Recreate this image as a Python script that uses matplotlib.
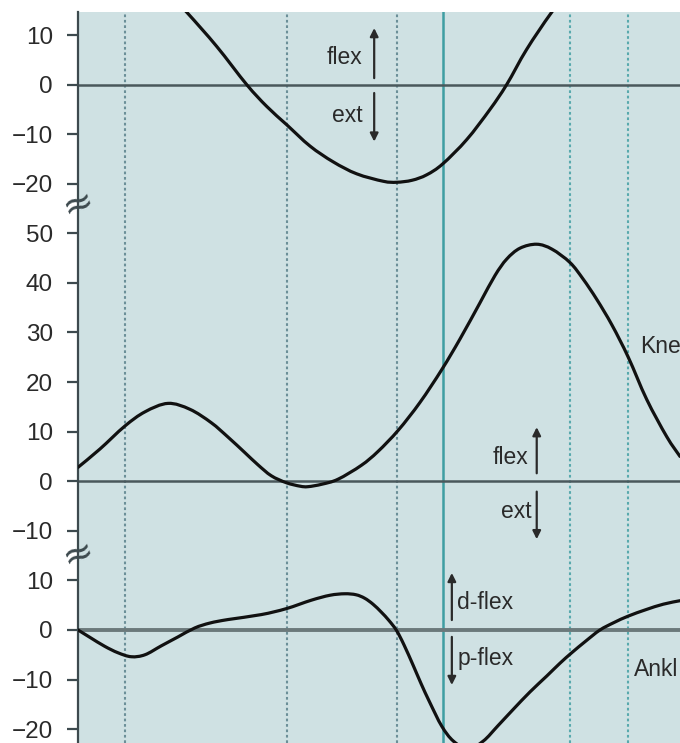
import matplotlib
matplotlib.use("Agg")
import matplotlib.pyplot as plt
from matplotlib.path import Path
from matplotlib.patches import PathPatch

# ---------------- data (x: % of cycle, y: joint angle in degrees) ----------------
hip_x = [0, 6.98, 13.62, 18.06, 23.04, 28.02, 31.35, 34.67, 38.54, 42.41, 46.30,
         50.71, 52.94, 55.48, 57.92, 60.58, 64.57, 68.44, 71.21, 74.53, 78.69, 83.39, 90.03, 100]
hip_y = [33, 28, 20.3, 14.6, 7.7, 0, -4.4, -8.1, -12.4, -15.6, -18.0,
         -19.5, -19.7, -19.3, -18.2, -16.0, -11.1, -5, 0, 7.1, 14.6, 22, 28, 32]

knee_x = [0, 3.65, 7.76, 11.13, 14.95, 18.60, 22.14, 24.92, 27.69, 29.90, 32.11,
          34.60, 36.88, 38.21, 40.53, 43.19, 47.06, 49.83, 53.21, 56.81, 60.42,
          63.46, 66.78, 69.27, 71.21, 73.42, 76.20, 78.74, 81.73, 83.89, 86.16,
          88.70, 91.41, 94.47, 97.79, 100]
knee_y = [2.8, 6.5, 11.1, 14.0, 15.7, 14.5, 11.8, 8.9, 5.8, 3.3, 1.1,
          -0.3, -1.0, -1.1, -0.6, 0.4, 3.2, 6.0, 10.3, 15.9, 22.5,
          28.7, 36.0, 41.5, 44.8, 47.0, 47.8, 46.8, 44.1, 40.8, 36.7,
          31.5, 25.0, 16.5, 9.0, 5.0]

ankle_x = [0, 1.99, 4.44, 6.64, 8.85, 11.13, 13.84, 16.61, 19.39, 21.93, 24.92,
           30.45, 34.60, 38.75, 41.86, 44.30, 46.18, 47.62, 49.00, 50.38, 51.66,
           52.91, 54.15, 55.70, 56.98, 58.47, 60.42, 62.34, 64.78, 67.33, 69.77,
           72.31, 75.08, 77.86, 80.07, 82.01, 84.39, 86.71, 89.04, 91.41, 94.35,
           97.23, 100]
ankle_y = [0, -1.5, -3.3, -4.6, -5.4, -5.0, -3.2, -1.4, 0.4, 1.4, 2.1,
           3.1, 4.3, 6.0, 7.0, 7.3, 7.1, 6.4, 5.2, 3.6, 1.9,
           -0.1, -3.0, -7.2, -10.8, -14.7, -19.4, -22.4, -24.0, -22.4, -19.3,
           -16.0, -12.5, -9.3, -6.7, -4.6, -2.2, 0, 1.5, 2.8, 4.1,
           5.2, 5.9]

# event lines (% of cycle)
dotted_events = [7.8, 34.7, 53.0, 81.8, 91.3]
solid_event = 60.6

# panel tick labels
hip_ticks = [10, 0, -10, -20]
knee_ticks = [50, 40, 30, 20, 10, 0, -10]
ankle_ticks = [10, 0, -10, -20]

# vertical offsets of the three stacked panels
hip_off, knee_off, ankle_off = 0, -80, -110

# ---------------- styling ----------------
BG = "#cfe1e3"
DARK = "#3d4a4e"
CURVE = "#111111"
TXT = "#2a2a2a"
tick_font = ["Liberation Sans Narrow", "Liberation Sans", "DejaVu Sans"]
lab_font = ["Liberation Sans", "DejaVu Sans"]

fig = plt.figure(figsize=(6.8, 7.43), dpi=100)
ax = fig.add_axes([78 / 680, 0, 1 - 78 / 680, 1 - 12 / 743])
ax.set_facecolor(BG)
ax.set_xlim(0, 100)
ax.set_ylim(-132.8, 14.64)

for s in ["top", "right", "bottom"]:
    ax.spines[s].set_visible(False)
ax.spines["left"].set_color(DARK)
ax.spines["left"].set_linewidth(1.6)

# event lines
for i, ev in enumerate(dotted_events):
    col = "#6b8f98" if i < 3 else "#58a9ad"
    ax.axvline(ev, color=col, lw=1.5, ls=(0, (1.3, 1.3)), zorder=1)
ax.axvline(solid_event, color="#3f9ea2", lw=1.8, zorder=1)

# zero lines
ax.axhline(hip_off, color="#4a585c", lw=1.8, zorder=2)
ax.axhline(knee_off, color="#4a585c", lw=1.8, zorder=2)
ax.axhline(ankle_off, color="#6b797b", lw=2.8, zorder=2)


def smooth_curve(xs, ys, off):
    """Draw a smooth curve through the read points (Catmull-Rom as cubic Bezier)."""
    pts = [(x, y + off) for x, y in zip(xs, ys)]
    verts = [pts[0]]
    codes = [Path.MOVETO]
    n = len(pts)
    for i in range(n - 1):
        p0 = pts[i - 1] if i > 0 else pts[i]
        p1 = pts[i]
        p2 = pts[i + 1]
        p3 = pts[i + 2] if i + 2 < n else pts[i + 1]
        c1 = (p1[0] + (p2[0] - p0[0]) / 6, p1[1] + (p2[1] - p0[1]) / 6)
        c2 = (p2[0] - (p3[0] - p1[0]) / 6, p2[1] - (p3[1] - p1[1]) / 6)
        verts += [c1, c2, p2]
        codes += [Path.CURVE4] * 3
    patch = PathPatch(Path(verts, codes), facecolor="none", edgecolor=CURVE,
                      lw=2.3, joinstyle="round", capstyle="round", zorder=3)
    ax.add_patch(patch)


smooth_curve(hip_x, hip_y, hip_off)
smooth_curve(knee_x, knee_y, knee_off)
smooth_curve(ankle_x, ankle_y, ankle_off)

# y ticks
pos = [t + hip_off for t in hip_ticks] + [t + knee_off for t in knee_ticks] + \
      [t + ankle_off for t in ankle_ticks]
labs = [str(t).replace("-", "\u2212") for t in hip_ticks + knee_ticks + ankle_ticks]
ax.set_yticks(pos)
ax.set_yticklabels(labs, family=tick_font, fontsize=17.5, color=TXT)
ax.tick_params(axis="y", direction="out", length=8, width=1.6, color=DARK, pad=10)
ax.set_xticks([])

# axis-break marks
for yb in [-24.3, -94.9]:
    ax.text(0, yb, "\u2248", fontsize=27, color=DARK, ha="center", va="center",
            rotation=20, clip_on=False, zorder=5, family=["DejaVu Sans"])

# direction annotations
arrow = dict(arrowstyle="-|>", lw=1.6, color=TXT, mutation_scale=12,
             shrinkA=0, shrinkB=0)


def darrow(x, y0, y1):
    ax.annotate("", xy=(x, y1), xytext=(x, y0), arrowprops=arrow, zorder=4)


# hip
ax.text(47.2, 5.4, "flex", ha="right", va="center", fontsize=16.5, color=TXT, family=lab_font)
darrow(49.2, 1.3, 11.4)
ax.text(47.2, -6.3, "ext", ha="right", va="center", fontsize=16.5, color=TXT, family=lab_font)
darrow(49.2, -1.7, -11.5)
# knee
ax.text(74.75, -75.3, "flex", ha="right", va="center", fontsize=16.5, color=TXT, family=lab_font)
darrow(76.2, -78.4, -69.1)
ax.text(75.4, -86.2, "ext", ha="right", va="center", fontsize=16.5, color=TXT, family=lab_font)
darrow(76.2, -82.1, -91.7)
# ankle
ax.text(63.0, -104.5, "d-flex", ha="left", va="center", fontsize=16.5, color=TXT, family=lab_font)
darrow(62.1, -108.0, -98.5)
ax.text(63.0, -115.7, "p-flex", ha="left", va="center", fontsize=16.5, color=TXT, family=lab_font)
darrow(62.1, -111.4, -121.1)

# joint labels as visible in the (cropped) reference
ax.text(93.3, -52.9, "Kne", ha="left", va="center", fontsize=16.5, color=TXT, family=lab_font)
ax.text(92.4, -117.9, "Ankl", ha="left", va="center", fontsize=16.5, color=TXT, family=lab_font)

fig.savefig("out.png", dpi=100, facecolor="white")
